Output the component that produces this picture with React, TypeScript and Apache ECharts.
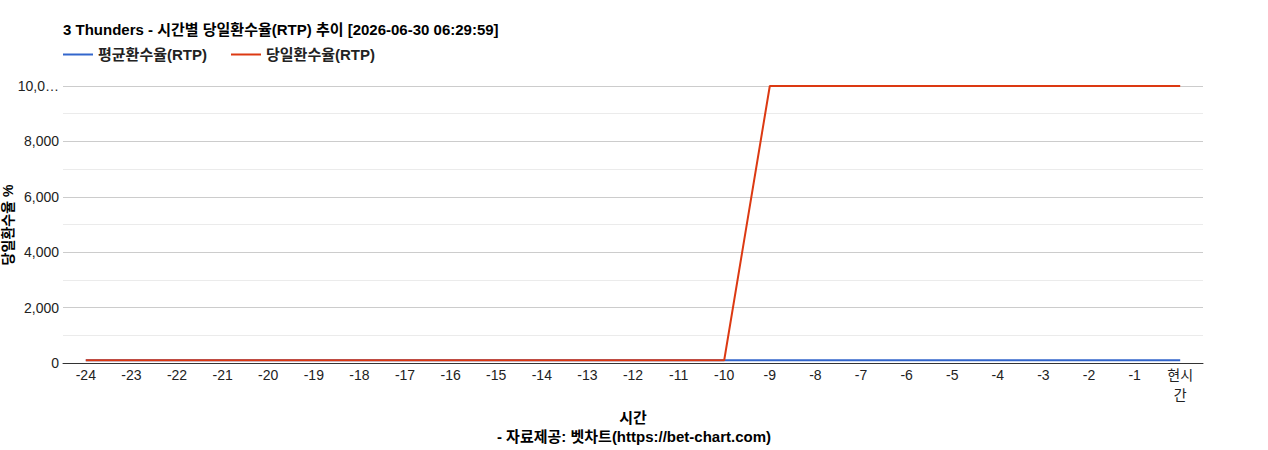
import * as echarts from 'echarts';
import { useEffect, useRef } from 'react';

const hours = [
    '-24', '-23', '-22', '-21', '-20', '-19', '-18', '-17', '-16', '-15', '-14', '-13',
    '-12', '-11', '-10', '-9', '-8', '-7', '-6', '-5', '-4', '-3', '-2', '-1', '현시간',
];
const avgRtp = [
    96.5, 96.5, 96.5, 96.5, 96.5, 96.5, 96.5, 96.5, 96.5, 96.5, 96.5, 96.5,
    96.5, 96.5, 96.5, 96.5, 96.5, 96.5, 96.5, 96.5, 96.5, 96.5, 96.5, 96.5, 96.5,
];
const dailyRtp = [
    100, 100, 100, 100, 100, 100, 100, 100, 100, 100, 100, 100,
    100, 100, 100, 10000, 10000, 10000, 10000, 10000, 10000, 10000, 10000, 10000, 10000,
];

const FONT = "Arial, 'Liberation Sans', 'Noto Sans CJK KR', sans-serif";

// the y labels are cut to 5 characters, like the reference's narrow label column
const yLabel = (v: number) => {
    const s = v.toLocaleString('en-US');
    return s.length > 5 ? s.slice(0, 4) + '…' : s;
};

const App = () => {
    const chartRef = useRef<HTMLDivElement>(null);

    useEffect(() => {
        if (!chartRef.current) return;
        const chart = echarts.init(chartRef.current, null, { renderer: 'svg' });

        chart.setOption({
            animation: false,
            textStyle: { fontFamily: FONT },
            title: [
                {
                    text: '3 Thunders - 시간별 당일환수율(RTP) 추이 [2026-06-30 06:29:59]',
                    left: 63,
                    top: 22,
                    padding: 0,
                    textStyle: { fontSize: 15, fontWeight: 'bold', color: '#000', fontFamily: FONT },
                },
                {
                    text: '- 자료제공: 벳차트(https://bet-chart.com)',
                    left: 'center',
                    top: 429,
                    padding: 0,
                    textStyle: { fontSize: 15, fontWeight: 'bold', color: '#000', fontFamily: FONT },
                },
            ],
            legend: {
                left: 63,
                top: 47,
                padding: 0,
                itemWidth: 30,
                itemGap: 24,
                icon: 'rect',
                itemHeight: 2,
                textStyle: { fontSize: 15, fontWeight: 'bold', color: '#222', fontFamily: FONT },
                data: ['평균환수율(RTP)', '당일환수율(RTP)'],
            },
            // y axis title, placed by hand at the left edge
            graphic: [
                {
                    type: 'text',
                    x: 8,
                    y: 225,
                    rotation: Math.PI / 2,
                    style: {
                        text: '당일환수율 %',
                        fontSize: 14,
                        fontWeight: 'bold',
                        fill: '#000',
                        fontFamily: FONT,
                        align: 'center',
                        verticalAlign: 'middle',
                    },
                },
            ],
            grid: { left: 63, right: 65, top: 86, bottom: 87, outerBoundsMode: 'none', containLabel: false },
            xAxis: {
                type: 'category',
                data: hours,
                boundaryGap: true,
                name: '시간',
                nameLocation: 'middle',
                nameGap: 44,
                nameTextStyle: { fontSize: 15, fontWeight: 'bold', color: '#000', fontFamily: FONT },
                axisLine: { lineStyle: { color: '#333', width: 1 } },
                axisTick: { show: false },
                axisLabel: {
                    interval: 0,
                    fontSize: 14,
                    color: '#222',
                    margin: 2,
                    width: 32,
                    overflow: 'break',
                    lineHeight: 20,
                    fontFamily: FONT,
                },
            },
            yAxis: {
                type: 'value',
                min: 0,
                max: 10000,
                interval: 2000,
                axisLine: { show: false },
                axisTick: { show: false },
                axisLabel: {
                    fontSize: 14,
                    color: '#222',
                    margin: 4,
                    fontFamily: FONT,
                    formatter: yLabel,
                },
                splitLine: { lineStyle: { color: '#cccccc', width: 1 } },
                minorTick: { show: false, splitNumber: 2 },
                minorSplitLine: { show: true, lineStyle: { color: '#ebebeb', width: 1 } },
            },
            series: [
                {
                    name: '평균환수율(RTP)',
                    type: 'line',
                    data: avgRtp,
                    symbol: 'none',
                    lineStyle: { width: 2, color: '#3366cc' },
                    itemStyle: { color: '#3366cc' },
                },
                {
                    name: '당일환수율(RTP)',
                    type: 'line',
                    data: dailyRtp,
                    symbol: 'none',
                    lineStyle: { width: 2, color: '#dc3912' },
                    itemStyle: { color: '#dc3912' },
                },
            ],
        });

        const onResize = () => chart.resize();
        window.addEventListener('resize', onResize);
        return () => {
            window.removeEventListener('resize', onResize);
            chart.dispose();
        };
    }, []);

    return (
        <div
            ref={chartRef}
            style={{ position: 'absolute', left: 0, top: 0, width: 1268, height: 450 }}
        />
    );
};

export default App;
